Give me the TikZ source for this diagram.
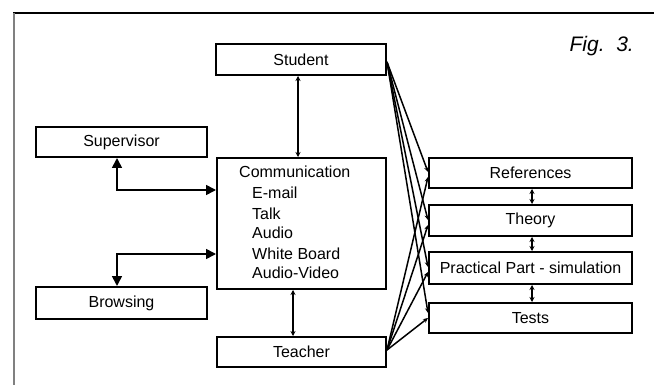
\documentclass[tikz,border=0pt]{standalone}
\usepackage{fontspec}
\setmainfont{Liberation Sans}
\usetikzlibrary{arrows.meta}
\begin{document}
\begin{tikzpicture}[x=1pt,y=-1pt,
  box/.style={draw,line width=2pt,minimum height=30pt,inner sep=0pt,font=\fontsize{16}{20}\selectfont},
  txt/.style={anchor=base west,inner sep=0pt,font=\fontsize{16}{20}\selectfont},
  dbl/.style={line width=1.7pt,{Stealth[length=5pt,width=5pt]}-{Stealth[length=5pt,width=5pt]}},
  big/.style={line width=1.7pt,{Triangle[length=10pt,width=10pt]}-{Triangle[length=10pt,width=10pt]}},
  fan/.style={line width=1.5pt,-{Stealth[length=5pt,width=4.5pt]}}]
\useasboundingbox (0,0) rectangle (654,385);
\draw[line width=1.3pt] (13,13) -- (654,13);
\draw[line width=2pt,gray] (14,13) -- (14,385);
\node[anchor=base east,inner sep=0pt,font=\fontsize{21}{24}\selectfont\itshape] (fig) at (634,52) {Fig.\ \ 3.};
\node[box,minimum width=170pt,minimum height=31pt] (stu) at (301,59.5) {Student};
\node[box,minimum width=169pt,minimum height=131pt] (comm) at (301.5,223.5) {};
\node[box,minimum width=171pt] (sup) at (121.5,142) {Supervisor};
\node[box,minimum width=171pt,minimum height=32pt] (brow) at (121.5,303) {Browsing};
\node[box,minimum width=169pt] (tea) at (301.5,352) {Teacher};
\node[box,minimum width=203pt] (ref) at (530.5,173) {References};
\node[box,minimum width=203pt,minimum height=31pt] (the) at (530.5,220.5) {Theory};
\node[box,minimum width=203pt,minimum height=32pt] (pra) at (530.5,268) {Practical Part - simulation};
\node[box,minimum width=203pt] (tes) at (530.5,318) {Tests};
\node[txt] (c0) at (239,178) {Communication};
\foreach \t [count=\i] in {E-mail,Talk,Audio,White Board,Audio-Video}
  \node[txt] (c\i) at (252,179+20*\i) {\t};
% vertical links
\draw[dbl] ([xshift=-3pt]stu.south) -- ([xshift=-3.5pt]comm.north);
\draw[dbl] ([xshift=-8.5pt]comm.south) -- ([xshift=-8.5pt]tea.north);
\draw[dbl] ([xshift=1.5pt]ref.south) -- ([xshift=1.5pt]the.north);
\draw[dbl] ([xshift=1.5pt]the.south) -- ([xshift=1.5pt]pra.north);
\draw[dbl] ([xshift=1.5pt]pra.south) -- ([xshift=1.5pt]tes.north);
\draw[big] ([xshift=-4.5pt]sup.south) |- ([yshift=33.5pt]comm.west);
\draw[big] ([yshift=-30.5pt]comm.west) -| ([xshift=-4.5pt]brow.north);
% fans
\coordinate (so) at ([yshift=-2.5pt]stu.east);
\coordinate (to) at ([yshift=2pt]tea.east);
\draw[fan] (so) -- ([yshift=1pt]ref.west);
\draw[fan] (so) -- ([yshift=0.5pt]the.west);
\draw[fan] (so) -- ([yshift=1pt]pra.west);
\draw[fan] (so) -- ([yshift=5pt]tes.west);
\draw[fan] (to) -- ([yshift=-4pt]ref.west);
\draw[fan] (to) -- ([yshift=-4.5pt]the.west);
\draw[fan] (to) -- ([yshift=-4pt]pra.west);
\draw[fan] (to) -- ([yshift=0pt]tes.west);
\end{tikzpicture}
\end{document}
